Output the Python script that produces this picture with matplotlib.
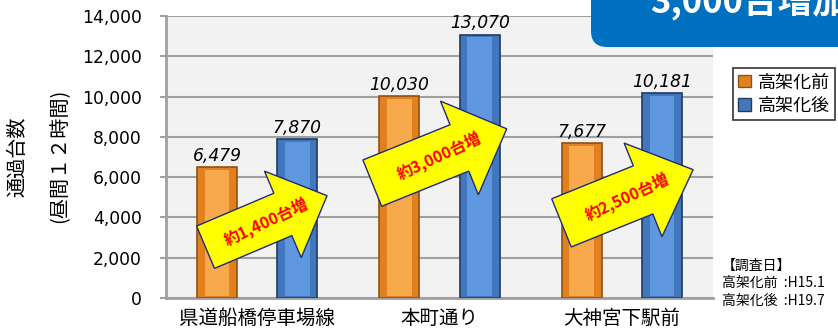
import numpy as np
import matplotlib
matplotlib.use("Agg")
from matplotlib import pyplot as plt
from matplotlib.patches import Polygon, FancyBboxPatch, Patch
from matplotlib.transforms import Affine2D

plt.rcParams['font.family'] = ['Noto Sans CJK JP', 'DejaVu Sans']

categories = ['県道船橋停車場線', '本町通り', '大神宮下駅前']
before = [6479, 10030, 7677]
after = [7870, 13070, 10181]
series_names = ['高架化前', '高架化後']
increase_labels = ['約1,400台増', '約3,000台増', '約2,500台増']
yticks = np.arange(0, 14001, 2000)

W, H = 838, 331
fig = plt.figure(figsize=(W / 100, H / 100), dpi=100)
ax = fig.add_axes([166 / W, 33 / H, 547 / W, 282 / H])
ax.set_facecolor('#f2f2f2')
ax.set_xlim(-0.5, 2.5)
ax.set_ylim(0, 14000)
ax.set_yticks(yticks)
ax.set_yticklabels([f'{v:,}' for v in yticks], fontsize=12.3, family='DejaVu Sans')
ax.set_xticks(range(3))
ax.set_xticklabels(categories, fontsize=14)
ax.tick_params(axis='x', length=0, pad=7)
ax.tick_params(axis='y', length=4.5, width=1.5, color='#a0a0a0', pad=13)
ax.yaxis.grid(True, color='#a0a0a0', lw=1.5)
ax.set_axisbelow(True)
for s in ['top', 'right']:
    ax.spines[s].set_visible(False)
for s in ['left', 'bottom']:
    ax.spines[s].set_color('#a0a0a0')
    ax.spines[s].set_linewidth(2)

x = np.arange(3)
bw = 0.22
off = 0.22
# bars with a simple bevel look
ax.bar(x - off, before, bw, color='#e0801f', edgecolor='#8f5215', lw=1.2, zorder=3)
ax.bar(x - off, np.array(before) - 250, bw * 0.62, bottom=120, color='#f8a94c', lw=0, zorder=3)
ax.bar(x + off, after, bw, color='#4277bd', edgecolor='#203a60', lw=1.2, zorder=3)
ax.bar(x + off, np.array(after) - 250, bw * 0.62, bottom=120, color='#5f98de', lw=0, zorder=3)

for i in range(3):
    ax.text(x[i] - off, before[i] + 120, f'{before[i]:,}', ha='center', va='bottom',
            fontsize=12.3, style='italic', family='DejaVu Sans', zorder=5)
    ax.text(x[i] + off, after[i] + 120, f'{after[i]:,}', ha='center', va='bottom',
            fontsize=12.3, style='italic', family='DejaVu Sans', zorder=5)

# yellow arrows: centre (data), angle, length, shaft width, head width, head length (px)
arrows = [
    ((0.05, 3800), 23, 132, 46, 94, 48),
    ((0.0, 7050), 22, 145, 50, 101, 51),
    ((0.03, 5050), 22, 142, 52, 101, 54),
]
for (c, ang, L, sw, hw, hl), lab, i in zip(arrows, increase_labels, x):
    cx, cy = ax.transData.transform((i + c[0], c[1]))
    pts = np.array([(-L / 2, sw / 2), (L / 2 - hl, sw / 2), (L / 2 - hl, hw / 2), (L / 2, 0),
                    (L / 2 - hl, -hw / 2), (L / 2 - hl, -sw / 2), (-L / 2, -sw / 2)])
    a = np.radians(ang)
    rot = np.array([[np.cos(a), -np.sin(a)], [np.sin(a), np.cos(a)]])
    pts = pts @ rot.T + [cx, cy]
    ax.add_patch(Polygon(pts, closed=True, facecolor='#ffff00', edgecolor='#1f2a7a',
                         lw=1.0, transform=None, zorder=6, clip_on=False))
    ax.text(i + c[0], c[1], lab, color='#ff0000', fontsize=11.5, fontweight='bold',
            rotation=25, ha='center', va='center', rotation_mode='anchor', zorder=7)

# y label
fig.text(18 / W, 1 - 157 / H, '通過台数', rotation=90, ha='center', va='center', fontsize=14.5)
fig.text(60 / W, 1 - 156 / H, '(昼間１２時間)', rotation=90, ha='center', va='center', fontsize=14.5)

# legend
handles = [Patch(facecolor='#e0801f', edgecolor='#8f5215'),
           Patch(facecolor='#4277bd', edgecolor='#203a60')]
leg = fig.legend(handles, series_names, loc='upper left', bbox_to_anchor=(733 / W, 1 - 68 / H),
                 fontsize=13, frameon=True, fancybox=False, edgecolor='black',
                 handlelength=0.7, handleheight=0.7, handletextpad=0.35,
                 borderpad=0.3, labelspacing=0.3, borderaxespad=0)
leg.get_frame().set_linewidth(1.2)

# survey dates
fig.text(722 / W, 1 - 266 / H, '【調査日】', fontsize=10, va='center')
fig.text(722 / W, 1 - 283 / H, '高架化前  :H15.1', fontsize=10, va='center')
fig.text(722 / W, 1 - 301 / H, '高架化後  :H19.7', fontsize=10, va='center')

# blue banner at top right
pix = Affine2D().scale(1 / W, 1 / H) + fig.transFigure
fig.patches.append(FancyBboxPatch((591, H - 47), 320, 90, boxstyle='round,pad=0,rounding_size=16',
                                  facecolor='#0070c0', edgecolor='none', transform=pix))
fig.text(650, H - 12, '3,000台増加', transform=pix, color='white', fontsize=25,
         fontweight='bold', va='baseline', ha='left')

fig.savefig('out.png', dpi=100)
